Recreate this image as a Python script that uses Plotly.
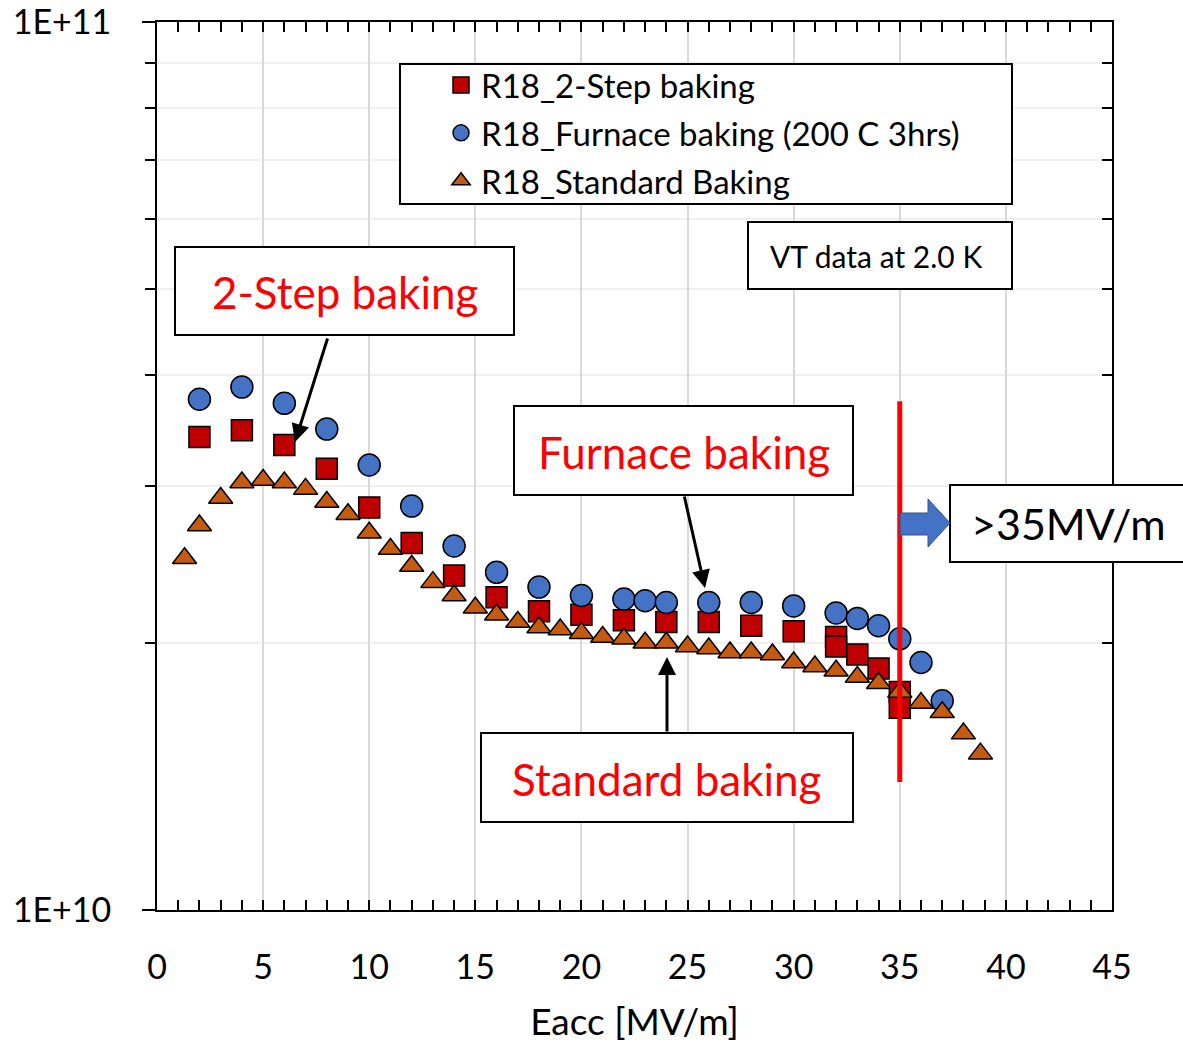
import plotly.graph_objects as go

# ---------------- data ----------------
two_step_x = [2, 4, 6, 8, 10, 12, 14, 16, 18, 20, 22, 24, 26, 28, 30, 32, 32, 33, 34, 35, 35]
two_step_y = [3.41e10, 3.47e10, 3.34e10, 3.14e10, 2.84e10, 2.59e10, 2.38e10, 2.25e10, 2.17e10,
              2.15e10, 2.12e10, 2.11e10, 2.11e10, 2.09e10, 2.06e10, 2.03e10, 1.98e10, 1.94e10,
              1.87e10, 1.76e10, 1.69e10]

furnace_x = [2, 4, 6, 8, 10, 12, 14, 16, 18, 20, 22, 23, 24, 26, 28, 30, 32, 33, 34, 35, 36, 37]
furnace_y = [3.76e10, 3.88e10, 3.72e10, 3.48e10, 3.17e10, 2.85e10, 2.57e10, 2.40e10, 2.31e10,
             2.26e10, 2.24e10, 2.23e10, 2.22e10, 2.22e10, 2.22e10, 2.20e10, 2.16e10, 2.13e10,
             2.09e10, 2.02e10, 1.90e10, 1.72e10]

standard_x = [1.3, 2, 3, 4, 5, 6, 7, 8, 9, 10, 11, 12, 13, 14, 15, 16, 17, 18, 19, 20,
              21, 22, 23, 24, 25, 26, 27, 28, 29, 30, 31, 32, 33, 34, 35, 36, 37, 38, 38.8]
standard_y = [2.49e10, 2.71e10, 2.91e10, 3.03e10, 3.05e10, 3.03e10, 2.98e10, 2.88e10, 2.79e10,
              2.66e10, 2.55e10, 2.44e10, 2.34e10, 2.26e10, 2.19e10, 2.15e10, 2.11e10, 2.08e10,
              2.07e10, 2.05e10, 2.03e10, 2.02e10, 2.00e10, 2.00e10, 1.98e10, 1.97e10, 1.95e10,
              1.95e10, 1.94e10, 1.90e10, 1.88e10, 1.86e10, 1.83e10, 1.80e10, 1.76e10, 1.71e10,
              1.67e10, 1.58e10, 1.50e10]

limit_x = [35, 35]
limit_y = [3.74e10, 1.394e10]

series_names = ["R18_2-Step baking", "R18_Furnace baking (200 C 3hrs)", "R18_Standard Baking"]
x_ticks = [0, 5, 10, 15, 20, 25, 30, 35, 40, 45]
y_major = [1e10, 1e11]
y_major_text = ["1E+10", "1E+11"]
y_minor = [2e10, 3e10, 4e10, 5e10, 6e10, 7e10, 8e10, 9e10]

# ---------------- geometry helpers (pixel -> paper) ----------------
L, R, T, B = 157, 1112, 22, 910
W, H = 1183, 1043


def pxx(x):
    return (x - L) / (R - L)


def pxy(y):
    return (B - y) / (B - T)


FONT = "Lato"

fig = go.Figure()

fig.add_trace(go.Scatter(
    x=two_step_x, y=two_step_y, mode="markers", name=series_names[0], legendgroup="a",
    marker=dict(symbol="square", size=21, color="#C00000", line=dict(color="black", width=1.5))))
fig.add_trace(go.Scatter(
    x=furnace_x, y=furnace_y, mode="markers", name=series_names[1], legendgroup="b",
    marker=dict(symbol="circle", size=22, color="#4472C4", line=dict(color="black", width=1.5))))
fig.add_trace(go.Scatter(
    x=standard_x, y=standard_y, mode="markers", name=series_names[2], legendgroup="c",
    marker=dict(symbol="triangle-up", size=21, color="#C55A11", line=dict(color="black", width=1.5))))
fig.add_trace(go.Scatter(
    x=limit_x, y=limit_y, mode="lines", showlegend=False, hoverinfo="skip",
    line=dict(color="#FF0000", width=5)))
# dummy trace for mirrored axes
fig.add_trace(go.Scatter(x=[None], y=[None], xaxis="x2", yaxis="y2", showlegend=False,
                         hoverinfo="skip", mode="markers"))

axis_common = dict(showline=True, linecolor="black", linewidth=2, zeroline=False,
                   tickcolor="black", tickwidth=2, automargin=False)

fig.update_layout(
    width=W, height=H,
    margin=dict(l=L, r=W - R, t=T, b=H - B, pad=0, autoexpand=False),
    plot_bgcolor="white", paper_bgcolor="white",
    font=dict(family=FONT, color="black"),
    xaxis=dict(range=[0, 45], tickmode="array", tickvals=x_ticks, ticks="inside", ticklen=10,
               showgrid=True, gridcolor="#d9d9d9", gridwidth=2,
               minor=dict(dtick=1, tick0=0, ticks="inside", ticklen=10, tickwidth=2,
                          tickcolor="black", showgrid=False),
               tickfont=dict(size=34), ticklabelstandoff=26,
               title=dict(text="Eacc [MV/m]", font=dict(size=37), standoff=28),
               **axis_common),
    yaxis=dict(type="log", range=[10, 11], tickmode="array", tickvals=y_major,
               ticktext=y_major_text, ticks="outside", ticklen=13, showgrid=False,
               ticklabeloverflow="allow",
               minor=dict(tickmode="array", tickvals=y_minor, ticks="outside", ticklen=10,
                          tickwidth=2, tickcolor="black", showgrid=True,
                          gridcolor="#efefef", gridwidth=2),
               tickfont=dict(size=34), ticklabelstandoff=24,
               **axis_common),
    xaxis2=dict(overlaying="x", side="top", anchor="y", range=[0, 45], tickmode="array",
                tickvals=x_ticks, ticks="inside", ticklen=10, showticklabels=False,
                showgrid=False,
                minor=dict(dtick=1, tick0=0, ticks="inside", ticklen=10, tickwidth=2,
                           tickcolor="black", showgrid=False),
                **axis_common),
    yaxis2=dict(overlaying="y", side="right", anchor="x", type="log", range=[10, 11],
                tickmode="array", tickvals=y_major, ticks="inside", ticklen=10,
                showticklabels=False, showgrid=False,
                minor=dict(tickmode="array", tickvals=y_minor, ticks="inside", ticklen=10,
                           tickwidth=2, tickcolor="black", showgrid=False),
                **axis_common),
    legend=dict(x=pxx(441), xanchor="left", y=pxy(57), yanchor="top",
                bgcolor="rgba(0,0,0,0)", borderwidth=0, font=dict(size=33, color="black"),
                traceorder="grouped", tracegroupgap=2),
    showlegend=True,
)

# boxes
boxes = [
    (400, 64, 1012, 204),   # legend
    (175, 247, 514, 335),   # 2-step
    (514, 406, 853, 495),   # furnace
    (481, 733, 853, 822),   # standard
    (748, 222, 1012, 289),  # VT data
    (950, 485, 1195, 562),  # >35MV/m
]
for x0, y0, x1, y1 in boxes:
    fig.add_shape(type="rect", xref="paper", yref="paper",
                  x0=pxx(x0), x1=pxx(x1), y0=pxy(y1), y1=pxy(y0),
                  fillcolor="white", line=dict(color="black", width=2), layer="above")

# blue block arrow
pts = [(900, 513), (928, 513), (928, 499), (950, 523), (928, 547), (928, 535), (900, 535)]
path = "M " + " L ".join(f"{pxx(a):.5f},{pxy(b):.5f}" for a, b in pts) + " Z"
fig.add_shape(type="path", xref="paper", yref="paper", path=path,
              fillcolor="#4472C4", line=dict(color="#2F528F", width=1), layer="above")

# texts
texts = [
    ("2-Step baking", 345, 292, 44, "#FF0000"),
    ("Furnace baking", 684, 452, 44, "#FF0000"),
    ("Standard baking", 667, 779, 44, "#FF0000"),
    ("VT data at 2.0 K", 876, 256, 30, "black"),
    (">35MV/m", 1068, 523, 43, "black"),
]
for t, x, y, s, c in texts:
    fig.add_annotation(text=t, xref="paper", yref="paper", x=pxx(x), y=pxy(y),
                       xanchor="center", yanchor="middle", showarrow=False,
                       font=dict(size=s, color=c, family=FONT))

# pointer arrows (tip, tail)
arrows = [((295, 442), (328, 337)), ((705, 588), (684, 495)), ((667, 657), (667, 733))]
for (tx, ty), (sx, sy) in arrows:
    fig.add_annotation(text="", xref="paper", yref="paper", x=pxx(tx), y=pxy(ty),
                       ax=sx - tx, ay=sy - ty, showarrow=True, arrowhead=2,
                       arrowsize=1.2, arrowwidth=3, arrowcolor="black")

fig.write_html("out.html")
